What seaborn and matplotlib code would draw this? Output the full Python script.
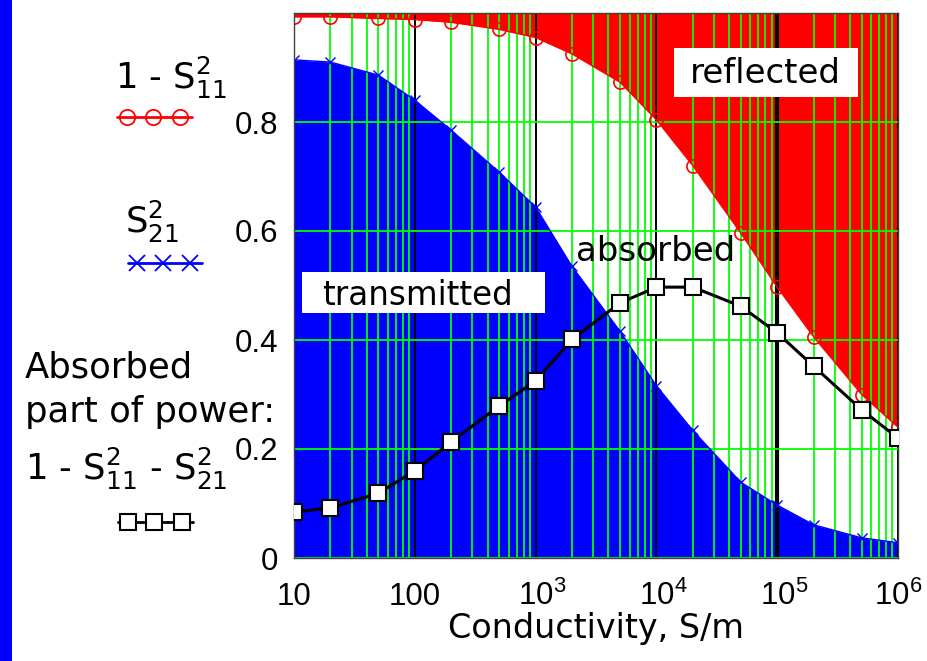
import matplotlib
matplotlib.use("Agg")
import matplotlib.pyplot as plt
from matplotlib.lines import Line2D
from matplotlib.patches import Rectangle
from matplotlib.ticker import LogLocator, NullFormatter
from matplotlib.transforms import ScaledTranslation
import seaborn as sns

# Conductivity sweep, S/m
sigma = [10, 20, 50, 100, 200, 500, 1e3, 2e3, 5e3, 1e4, 2e4, 5e4, 1e5, 2e5, 5e5, 1e6]
# 1 - S11^2  (power not reflected)
one_minus_s11 = [0.993, 0.993, 0.990, 0.988, 0.983, 0.970, 0.955, 0.925,
                 0.873, 0.804, 0.720, 0.596, 0.497, 0.406, 0.300, 0.240]
# S21^2  (transmitted power)
s21_sq = [0.914, 0.910, 0.886, 0.840, 0.785, 0.708, 0.644, 0.535,
          0.416, 0.316, 0.234, 0.139, 0.097, 0.061, 0.037, 0.028]
# 1 - S11^2 - S21^2  (absorbed power)
absorbed = [0.084, 0.092, 0.119, 0.160, 0.213, 0.279, 0.325, 0.401,
            0.468, 0.497, 0.497, 0.462, 0.413, 0.352, 0.272, 0.220]

x_ticks = [10, 100, 1e3, 1e4, 1e5, 1e6]
x_tick_labels = ["10", "100", r"$\mathdefault{10^{3}}$", r"$\mathdefault{10^{4}}$",
                 r"$\mathdefault{10^{5}}$", r"$\mathdefault{10^{6}}$"]
y_ticks = [0, 0.2, 0.4, 0.6, 0.8]
y_tick_labels = ["0", "0.2", "0.4", "0.6", "0.8"]

GREEN = "#00ff00"
RED = "#ff0000"
BLUE = "#0000ff"

sns.set_style("white")
plt.rcParams.update({
    "font.family": ["DejaVu Sans"],
    "mathtext.fontset": "dejavusans",
    "text.color": "black",
    "axes.labelcolor": "black",
    "xtick.color": "black",
    "ytick.color": "black",
})

W, H = 927, 661
fig = plt.figure(figsize=(W / 100, H / 100), dpi=100)
fig.patch.set_facecolor("white")


def fx(px):
    return px / W


def fy(py):
    return 1 - py / H


# blue strip along the left edge
fig.add_artist(Rectangle((0, 0), fx(12), 1, transform=fig.transFigure,
                         color=BLUE, lw=0, zorder=0))

ax = fig.add_axes([fx(294), fy(558), fx(898) - fx(294), fy(13) - fy(558)])
ax.set_xscale("log")
ax.set_xlim(10, 1e6)
ax.set_ylim(0, 1)
ax.set_facecolor("white")

# filled regions: reflected (top, red) and transmitted (bottom, blue)
ax.fill_between(sigma, one_minus_s11, 1, color=RED, lw=0, zorder=1)
ax.fill_between(sigma, 0, s21_sq, color=BLUE, lw=0, zorder=1)

# grid drawn above the fills
ax.set_axisbelow(False)
ax.xaxis.set_minor_locator(LogLocator(base=10, subs=range(2, 10)))
ax.xaxis.set_minor_formatter(NullFormatter())
ax.xaxis.grid(True, which="minor", color=GREEN, lw=1.3)
ax.xaxis.grid(True, which="major", color="black", lw=1.4)
ax.yaxis.grid(True, which="major", color=GREEN, lw=1.3)

ax.set_xticks(x_ticks)
ax.set_xticklabels(x_tick_labels, fontfamily="Liberation Sans", fontsize=22.5,
                   color="black")
ax.set_yticks(y_ticks)
ax.set_yticklabels(y_tick_labels, fontfamily="Liberation Sans", fontsize=22.5,
                   color="black")
ax.tick_params(which="both", length=0)
ax.tick_params(axis="x", pad=33.8)
ax.tick_params(axis="y", pad=11.5)
plt.setp(ax.get_xticklabels(), va="baseline")
# keep the "10" of the power labels centred on the tick
for lbl in ax.get_xticklabels()[2:5]:
    lbl.set_transform(lbl.get_transform() + ScaledTranslation(0.07, 0, fig.dpi_scale_trans))
ax.xaxis.get_gridlines()[4].set_linewidth(3)

for sp in ax.spines.values():
    sp.set_color("#404040")
    sp.set_linewidth(1.0)
    sp.set_zorder(5)

# curves
sns.lineplot(x=sigma, y=one_minus_s11, ax=ax, color=RED, lw=1.0, marker="o",
             markersize=9.5, markerfacecolor="none", markeredgecolor=RED,
             markeredgewidth=1.2, estimator=None, sort=False, zorder=4)
sns.lineplot(x=sigma, y=s21_sq, ax=ax, color=BLUE, lw=1.0, marker="x",
             markersize=7, markeredgecolor=BLUE, markeredgewidth=1.0,
             estimator=None, sort=False, zorder=4)
sns.lineplot(x=sigma, y=absorbed, ax=ax, color="black", lw=2.2, marker="s",
             markersize=11, markerfacecolor="white", markeredgecolor="black",
             markeredgewidth=1.5, estimator=None, sort=False, zorder=6)

# region labels
ax.add_patch(Rectangle((0.013, 0.450), 0.403, 0.075, transform=ax.transAxes,
                       fc="white", ec="none", zorder=2.8))
ax.text(0.2045, 0.464, "transmitted", transform=ax.transAxes, ha="center",
        va="baseline", fontsize=23.5, zorder=2.9)
ax.add_patch(Rectangle((0.629, 0.846), 0.305, 0.090, transform=ax.transAxes,
                       fc="white", ec="none", zorder=2.8))
ax.text(0.781, 0.8716, "reflected", transform=ax.transAxes, ha="center",
        va="baseline", fontsize=24.5, zorder=2.9)
ax.text(0.598, 0.545, "absorbed", transform=ax.transAxes, ha="center",
        va="baseline", fontsize=24.5, zorder=2.9)

ax.set_xlabel("Conductivity, S/m", fontsize=24, va="baseline", color="black")
ax.xaxis.set_label_coords(0.5, -0.1468)
ax.set_ylabel("")

# key on the left side
LEG_FS = 25.5
fig.text(fx(115), fy(89), r"1 - S$\mathdefault{_{11}^{2}}$", fontsize=LEG_FS,
         ha="left", va="baseline")
fig.text(fx(125), fy(233), r"S$\mathdefault{_{21}^{2}}$", fontsize=LEG_FS,
         ha="left", va="baseline")
fig.text(fx(25), fy(377), "Absorbed", fontsize=LEG_FS, ha="left", va="baseline")
fig.text(fx(25), fy(422), "part of power:", fontsize=LEG_FS, ha="left", va="baseline")
fig.text(fx(25), fy(480), r"1 - S$\mathdefault{_{11}^{2}}$ - S$\mathdefault{_{21}^{2}}$",
         fontsize=LEG_FS, ha="left", va="baseline")


def key_line(xs, y, **kw):
    fig.add_artist(Line2D([fx(v) for v in xs], [fy(y)] * len(xs),
                          transform=fig.transFigure, markevery=[1, 2, 3], **kw))


key_line([117, 127, 153, 180, 192], 117, color=RED, lw=2, marker="o",
         markersize=11, markerfacecolor="none", markeredgecolor=RED, markeredgewidth=1.3)
key_line([128, 137, 163, 190, 202], 263, color=BLUE, lw=2, marker="x",
         markersize=12, markeredgecolor=BLUE, markeredgewidth=1.3)
key_line([118, 128, 154, 182, 193], 522, color="black", lw=2, marker="s",
         markersize=11, markerfacecolor="white", markeredgecolor="black",
         markeredgewidth=1.5)

fig.savefig("out.png", dpi=100, facecolor="white")
